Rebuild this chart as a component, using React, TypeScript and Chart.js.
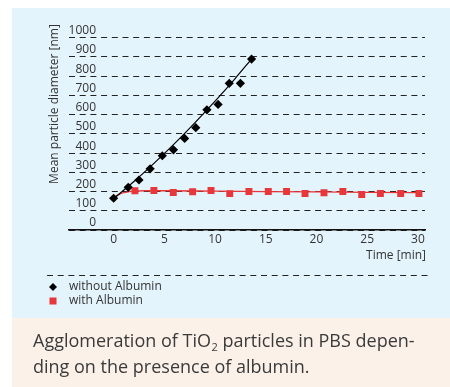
import { useEffect, useRef } from 'react';
import { Chart, registerables } from 'chart.js';

Chart.register(...registerables);

// ---- data ----
const withoutTime = [0, 1.44, 2.5, 3.6, 4.8, 5.9, 7.0, 8.1, 9.2, 10.3, 11.4, 12.5, 13.6];
const withoutDiameter = [165, 222, 260, 318, 386, 417, 476, 532, 625, 653, 763, 763, 889];

const withTime = [2.1, 3.97, 5.88, 7.79, 9.6, 11.45, 13.34, 15.25, 17.05, 18.87, 20.74, 22.6, 24.46, 26.3, 28.3, 30.1];
const withDiameter = [204, 205, 195, 199, 205, 189, 200, 200, 200, 190, 194, 200, 185, 190, 190, 190];

const withoutFitTime = [0, 2, 4, 6, 8, 10, 12, 13.6];
const withoutFitDiameter = [163, 252, 348, 449, 557, 670, 789, 889];

const withFitTime = [0, 0.5, 1, 1.5, 2, 3, 5, 10, 15, 20, 25, 30];
const withFitDiameter = [168, 184, 194, 199, 202, 204, 204, 202, 200, 198, 196, 194];

const xTicks = [0, 5, 10, 15, 20, 25, 30];
const yTicks = [0, 100, 200, 300, 400, 500, 600, 700, 800, 900, 1000];

const seriesLabels = ['without Albumin', 'with Albumin'];
const yTitle = 'Mean particle diameter [nm]';
const xTitle = 'Time [min]';
const captionLine1a = 'Agglomeration of TiO';
const captionSub = '2';
const captionLine1b = ' particles in PBS depen-';
const captionLine2 = 'ding on the presence of albumin.';

const BLUE = '#e4f4fc';
const BEIGE = '#fcf1e9';
const RED = '#e8373a';
const TEXT = '#333333';
const FONT = '"Open Sans", "Noto Sans", sans-serif';

const toPts = (xs: number[], ys: number[]) => xs.map((x, i) => ({ x, y: ys[i] }));

export default function App() {
  const ref = useRef<HTMLCanvasElement>(null);

  useEffect(() => {
    if (!ref.current) return;

    const bgPlugin = {
      id: 'bgPanels',
      beforeDraw(chart: any) {
        const { ctx } = chart;
        ctx.save();
        ctx.fillStyle = '#ffffff';
        ctx.fillRect(0, 0, 450, 387);
        ctx.fillStyle = BLUE;
        ctx.fillRect(12, 8, 438, 310);
        ctx.fillStyle = BEIGE;
        ctx.fillRect(12, 318, 438, 69);
        ctx.restore();
      },
    };

    const annotPlugin = {
      id: 'annot',
      afterDraw(chart: any) {
        const { ctx } = chart;
        const y = chart.scales.y;
        ctx.save();
        // y tick labels, sitting above their grid lines
        ctx.fillStyle = TEXT;
        ctx.font = `12px ${FONT}`;
        ctx.textAlign = 'right';
        ctx.textBaseline = 'middle';
        yTicks.forEach((v) => {
          ctx.fillText(String(v), 96, y.getPixelForValue(v) - 7);
        });
        // y title
        ctx.save();
        ctx.translate(55, 104);
        ctx.rotate(-Math.PI / 2);
        ctx.textAlign = 'center';
        ctx.fillText(yTitle, 0, 0);
        ctx.restore();
        // x title
        ctx.textAlign = 'right';
        ctx.fillText(xTitle, 426, 256);
        // legend separator
        ctx.strokeStyle = '#222222';
        ctx.lineWidth = 1;
        ctx.setLineDash([6, 4.7]);
        ctx.beginPath();
        ctx.moveTo(47, 275.5);
        ctx.lineTo(428, 275.5);
        ctx.stroke();
        ctx.setLineDash([]);
        // legend markers
        ctx.fillStyle = '#000000';
        ctx.beginPath();
        ctx.moveTo(53, 283);
        ctx.lineTo(57, 287);
        ctx.lineTo(53, 291);
        ctx.lineTo(49, 287);
        ctx.closePath();
        ctx.fill();
        ctx.fillStyle = RED;
        ctx.fillRect(49.5, 297.5, 7, 7);
        // legend texts
        ctx.fillStyle = TEXT;
        ctx.textAlign = 'left';
        ctx.fillText(seriesLabels[0], 69, 287);
        ctx.fillText(seriesLabels[1], 69, 301);
        // caption
        ctx.fillStyle = '#3a3a3a';
        ctx.textBaseline = 'alphabetic';
        ctx.font = `18px ${FONT}`;
        ctx.fillText(captionLine1a, 33, 347);
        let x = 33 + ctx.measureText(captionLine1a).width;
        ctx.font = `11px ${FONT}`;
        ctx.fillText(captionSub, x + 0.5, 351);
        x += ctx.measureText(captionSub).width + 0.5;
        ctx.font = `18px ${FONT}`;
        ctx.fillText(captionLine1b, x, 347);
        ctx.fillText(captionLine2, 33, 373);
        ctx.restore();
      },
    };

    const chart = new Chart(ref.current, {
      type: 'scatter',
      data: {
        datasets: [
          {
            label: seriesLabels[0],
            data: toPts(withoutTime, withoutDiameter),
            pointStyle: 'rectRot',
            pointRadius: 4.6,
            backgroundColor: '#000000',
            borderWidth: 0,
            showLine: false,
            order: 1,
          },
          {
            label: seriesLabels[1],
            data: toPts(withTime, withDiameter),
            pointStyle: 'rect',
            pointRadius: 4.9,
            backgroundColor: RED,
            borderWidth: 0,
            showLine: false,
            order: 2,
          },
          {
            label: 'fit without',
            data: toPts(withoutFitTime, withoutFitDiameter),
            showLine: true,
            pointRadius: 0,
            borderColor: '#000000',
            borderWidth: 1.2,
            cubicInterpolationMode: 'monotone',
            order: 3,
          },
          {
            label: 'fit with',
            data: toPts(withFitTime, withFitDiameter),
            showLine: true,
            pointRadius: 0,
            borderColor: RED,
            borderWidth: 1.3,
            cubicInterpolationMode: 'monotone',
            order: 4,
          },
        ],
      } as any,
      options: {
        responsive: false,
        animation: false,
        devicePixelRatio: 1,
        layout: { padding: { left: 69, right: 25, top: 37.7, bottom: 0 } },
        plugins: { legend: { display: false }, tooltip: { enabled: false } },
        scales: {
          x: {
            type: 'linear',
            min: -4.4,
            max: 30.7,
            afterBuildTicks: (s: any) => {
              s.ticks = xTicks.map((v) => ({ value: v }));
            },
            afterFit: (s: any) => {
              s.height = 157;
            },
            ticks: {
              color: TEXT,
              font: { family: FONT, size: 12 },
              padding: 2,
              maxRotation: 0,
              autoSkip: false,
            },
            grid: { color: 'rgba(0,0,0,0)', drawTicks: false },
            border: { display: true, color: '#111111', width: 1.6 },
          },
          y: {
            type: 'linear',
            min: 0,
            max: 1000,
            afterBuildTicks: (s: any) => {
              s.ticks = yTicks.map((v) => ({ value: v }));
            },
            afterFit: (s: any) => {
              s.width = 0;
            },
            ticks: { display: false },
            grid: { color: '#222222', lineWidth: 1, drawTicks: false },
            border: { display: false, dash: [6, 4.7] },
          },
        },
      } as any,
      plugins: [bgPlugin, annotPlugin],
    });

    return () => chart.destroy();
  }, []);

  return (
    <div style={{ position: 'fixed', left: 0, top: 0, width: 450, height: 387 }}>
      <canvas ref={ref} width={450} height={387} style={{ display: 'block', width: 450, height: 387 }} />
    </div>
  );
}
